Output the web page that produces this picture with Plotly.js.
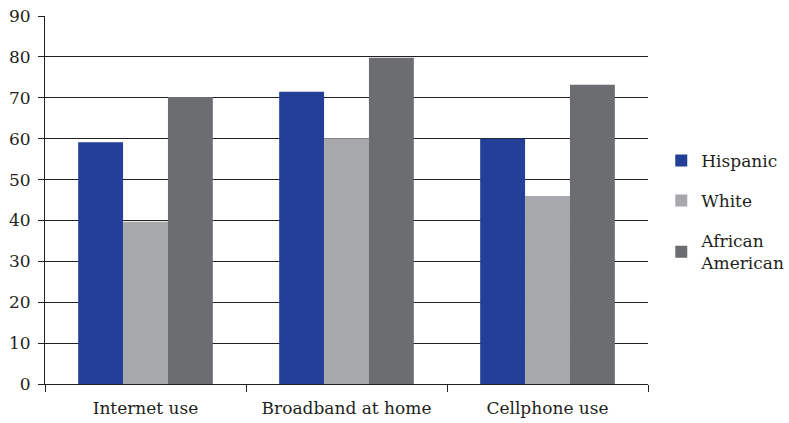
<!DOCTYPE html>
<html><head><meta charset="utf-8">
<script src="https://cdn.plot.ly/plotly-3.0.1.min.js"></script>
<style>html,body{margin:0;padding:0;background:#fff;}#chart{width:789px;height:423px;}</style>
</head><body><div id="chart"></div>
<script>
const categories = ["Internet use", "Broadband at home", "Cellphone use"];
const hispanic = [59.1, 71.5, 60.0];
const white = [39.7, 60.1, 46.0];
const africanAmerican = [70.2, 79.8, 73.2];
const seriesNames = ["Hispanic", "White", "African<br>American"];
const yTicks = [0,10,20,30,40,50,60,70,80,90];

const font = "DejaVu Serif";
const colors = ["#233F98", "#A7A8AB", "#6C6D71"];
const series = [hispanic, white, africanAmerican];

const data = series.map((vals, i) => ({
  type: "bar", x: categories, y: vals, name: seriesNames[i],
  legendgroup: "g" + i,
  marker: {color: colors[i], line: {width: 0}},
  hoverinfo: "x+y"
}));

const layout = {
  width: 789, height: 423,
  margin: {l: 45, r: 141, t: 16, b: 39, autoexpand: false},
  paper_bgcolor: "#fff", plot_bgcolor: "#fff",
  barmode: "group", bargap: 0.33, bargroupgap: 0,
  font: {family: font, size: 17, color: "#231F20"},
  showlegend: true,
  legend: {x: 1.022, y: 0.655, xanchor: "left", yanchor: "top",
           font: {family: font, size: 17, color: "#231F20"},
           traceorder: "grouped", tracegroupgap: 15, itemwidth: 30},
  xaxis: {showline: true, linecolor: "#231F20", linewidth: 1,
          ticks: "outside", tickson: "boundaries", ticklen: 7, tickcolor: "#231F20",
          showgrid: false, tickfont: {family: font, size: 17}, ticklabelstandoff: 9},
  yaxis: {range: [0, 90], tickvals: yTicks, ticktext: yTicks.map(String),
          showline: true, linecolor: "#231F20", linewidth: 1,
          ticks: "outside", ticklen: 6, tickcolor: "#231F20",
          showgrid: true, gridcolor: "#231F20", gridwidth: 1,
          zeroline: false, tickfont: {family: font, size: 17}, ticklabelstandoff: 4}
};

Plotly.newPlot("chart", data, layout, {displayModeBar: false, staticPlot: true});
</script></body></html>
